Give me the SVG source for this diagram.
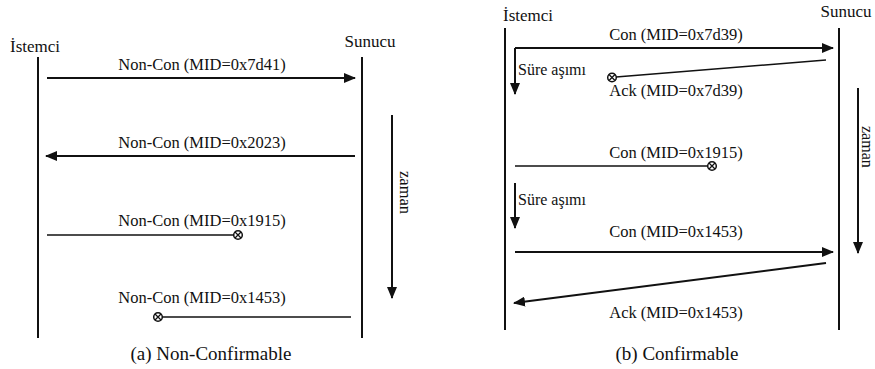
<svg xmlns="http://www.w3.org/2000/svg" width="875" height="369" viewBox="0 0 875 369">
<style>
text{font-family:"Liberation Serif",Tinos,"Times New Roman","DejaVu Serif",serif;fill:#111}
.lbl{font-size:16.5px;text-anchor:middle}
.cap{font-size:19px;text-anchor:middle}
.life{stroke:#111;stroke-width:2;fill:none}
.msg{stroke:#111;stroke-width:2;fill:none}
.lost{stroke:#111;stroke-width:1.6;fill:none}
.x{stroke:#111;stroke-width:1.5;fill:#fff}
</style>
<defs>
<marker id="ah" markerWidth="12" markerHeight="10" refX="11" refY="5" orient="auto" markerUnits="userSpaceOnUse">
<path d="M0,0 L12,5 L0,10 Z" fill="#111"/>
</marker>
<g id="lostsym">
<circle r="4.3" class="x"/>
<path d="M-3,-3 L3,3 M-3,3 L3,-3" stroke="#111" stroke-width="1.3"/>
</g>
</defs>
<rect width="875" height="369" fill="#fff"/>

<!-- Panel (a) -->
<g id="a-istemci"><text x="10" y="52" font-size="17px">İstemci</text><line class="life" x1="38" y1="57" x2="38" y2="338"/></g>
<g id="a-sunucu"><text x="370" y="47" font-size="17px" text-anchor="middle">Sunucu</text><line class="life" x1="362" y1="57" x2="362" y2="338"/></g>
<g id="a-connectors">
<line class="msg" x1="47" y1="78" x2="355" y2="78" marker-end="url(#ah)"/>
<text class="lbl" x="202" y="70">Non-Con (MID=0x7d41)</text>
<line class="msg" x1="355" y1="156" x2="46" y2="156" marker-end="url(#ah)"/>
<text class="lbl" x="202" y="148">Non-Con (MID=0x2023)</text>
<line class="lost" x1="47" y1="235" x2="234" y2="235"/>
<use href="#lostsym" x="238" y="235"/>
<text class="lbl" x="202" y="226">Non-Con (MID=0x1915)</text>
<line class="lost" x1="351" y1="317" x2="162" y2="317"/>
<use href="#lostsym" x="158" y="317"/>
<text class="lbl" x="202" y="303">Non-Con (MID=0x1453)</text>
<line class="msg" x1="392" y1="115" x2="392" y2="298" marker-end="url(#ah)"/>
<text x="400" y="171" font-size="16.5px" transform="rotate(90 400 171)">zaman</text>
</g>
<text class="cap" x="211" y="360">(a) Non-Confirmable</text>

<!-- Panel (b) -->
<g id="b-istemci"><text x="503" y="21" font-size="17px">İstemci</text><line class="life" x1="505" y1="28" x2="505" y2="330"/></g>
<g id="b-sunucu"><text x="846" y="17" font-size="17px" text-anchor="middle">Sunucu</text><line class="life" x1="839" y1="28" x2="839" y2="330"/></g>
<g id="b-connectors">
<line class="msg" x1="515" y1="48" x2="833" y2="48" marker-end="url(#ah)"/>
<text class="lbl" x="676" y="40">Con (MID=0x7d39)</text>
<line class="msg" x1="515" y1="48" x2="515" y2="94" marker-end="url(#ah)"/>
<text x="518" y="75" font-size="16px">Süre aşımı</text>
<line class="lost" x1="826" y1="60" x2="616" y2="77"/>
<use href="#lostsym" x="612" y="77.5"/>
<text class="lbl" x="676" y="96">Ack (MID=0x7d39)</text>
<line class="lost" x1="515" y1="166" x2="708" y2="166"/>
<use href="#lostsym" x="712" y="166"/>
<text class="lbl" x="676" y="158">Con (MID=0x1915)</text>
<line class="msg" x1="515" y1="183" x2="515" y2="228" marker-end="url(#ah)"/>
<text x="518" y="205" font-size="16px">Süre aşımı</text>
<line class="msg" x1="515" y1="252" x2="833" y2="252" marker-end="url(#ah)"/>
<text class="lbl" x="676" y="237">Con (MID=0x1453)</text>
<line class="msg" x1="826" y1="263" x2="514" y2="303" marker-end="url(#ah)"/>
<text class="lbl" x="676" y="318">Ack (MID=0x1453)</text>
<line class="msg" x1="858" y1="88" x2="858" y2="253" marker-end="url(#ah)"/>
<text x="862" y="126" font-size="16px" transform="rotate(90 862 126)">zaman</text>
</g>
<text class="cap" x="677" y="360">(b) Confirmable</text>
</svg>
